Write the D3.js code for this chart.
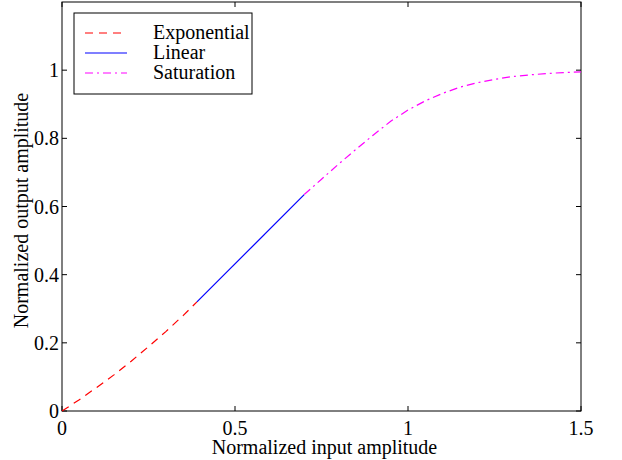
<!DOCTYPE html>
<html>
<head>
<meta charset="utf-8">
<script src="https://cdn.jsdelivr.net/npm/d3@7"></script>
<style>
  body { margin: 0; background: #fff; }
  svg text { font-family: "Liberation Serif", "DejaVu Serif", serif; fill: #000; }
</style>
</head>
<body>
<svg width="622" height="460"></svg>
<script>
// curve values
var expX = [0, 0.05, 0.1, 0.15, 0.2, 0.25, 0.3, 0.35, 0.39];
var expY = [0, 0.033, 0.069, 0.106, 0.146, 0.189, 0.233, 0.280, 0.320];

var linX = [0.39, 0.70];
var linY = [0.320, 0.635];

var satX = [0.70, 0.75, 0.8, 0.85, 0.9, 0.95, 1.0, 1.05, 1.1, 1.15, 1.2, 1.25, 1.3, 1.35, 1.4, 1.45, 1.5];
var satY = [0.635, 0.68, 0.725, 0.768, 0.81, 0.85, 0.883, 0.91, 0.932, 0.95, 0.963, 0.973, 0.981, 0.986, 0.99, 0.993, 0.995];

var xTicks = [0, 0.5, 1, 1.5];
var yTicks = [0, 0.2, 0.4, 0.6, 0.8, 1];
var legendNames = ["Exponential", "Linear", "Saturation"];

var svg = d3.select("svg");

// plot box (pixels)
var pLeft = 62, pRight = 581, pTop = 2, pBottom = 411;

var x = d3.scaleLinear().domain([0, 1.5]).range([pLeft, pRight]);
var y = d3.scaleLinear().domain([0, 1.2]).range([pBottom, pTop]);

var line = d3.line()
    .x(d => x(d[0]))
    .y(d => y(d[1]));

const series = [
    { name: legendNames[0], xs: expX, ys: expY, color: "#ff0000", dash: "8,6" },
    { name: legendNames[1], xs: linX, ys: linY, color: "#0000ff", dash: null },
    { name: legendNames[2], xs: satX, ys: satY, color: "#ff00ff", dash: "8,4,2,4" }
];

// frame
svg.append("rect")
    .attr("x", pLeft).attr("y", pTop)
    .attr("width", pRight - pLeft).attr("height", pBottom - pTop)
    .attr("fill", "none").attr("stroke", "#000").attr("stroke-width", 1);

// inward ticks on all four sides
var tickLen = 5;
var fs = 20;
xTicks.forEach(t => {
    svg.append("line").attr("x1", x(t)).attr("x2", x(t))
        .attr("y1", pBottom).attr("y2", pBottom - tickLen).attr("stroke", "#000");
    svg.append("line").attr("x1", x(t)).attr("x2", x(t))
        .attr("y1", pTop).attr("y2", pTop + tickLen).attr("stroke", "#000");
    svg.append("text").attr("x", x(t)).attr("y", pBottom + 24)
        .attr("text-anchor", "middle").style("font-size", fs + "px").text(t);
});
yTicks.forEach(t => {
    svg.append("line").attr("x1", pLeft).attr("x2", pLeft + tickLen)
        .attr("y1", y(t)).attr("y2", y(t)).attr("stroke", "#000");
    svg.append("line").attr("x1", pRight).attr("x2", pRight - tickLen)
        .attr("y1", y(t)).attr("y2", y(t)).attr("stroke", "#000");
    svg.append("text").attr("x", pLeft - 3).attr("y", y(t) + 7)
        .attr("text-anchor", "end").style("font-size", fs + "px").text(t);
});

// axis labels
svg.append("text").attr("x", (pLeft + pRight) / 2 + 3).attr("y", 454)
    .attr("text-anchor", "middle").style("font-size", fs + "px")
    .text("Normalized input amplitude");
svg.append("text")
    .attr("transform", "translate(28," + ((pTop + pBottom) / 2 + 4) + ") rotate(-90)")
    .attr("text-anchor", "middle").style("font-size", fs + "px")
    .text("Normalized output amplitude");

// curves
series.forEach(s => {
    var pts = s.xs.map((v, i) => [v, s.ys[i]]);
    svg.append("path")
        .attr("d", line(pts))
        .attr("fill", "none")
        .attr("stroke", s.color)
        .attr("stroke-width", 1.2)
        .attr("stroke-dasharray", s.dash);
});

// legend
var lg = svg.append("g");
lg.append("rect").attr("x", 74).attr("y", 13).attr("width", 178).attr("height", 81)
    .attr("fill", "#fff").attr("stroke", "#000");
series.forEach((s, i) => {
    var ly = 33 + i * 20;
    lg.append("line").attr("x1", 85).attr("x2", 127).attr("y1", ly).attr("y2", ly)
        .attr("stroke", s.color).attr("stroke-width", 1.2).attr("stroke-dasharray", s.dash);
    lg.append("text").attr("x", 153).attr("y", ly + 6)
        .style("font-size", fs + "px").text(s.name);
});
</script>
</body>
</html>
